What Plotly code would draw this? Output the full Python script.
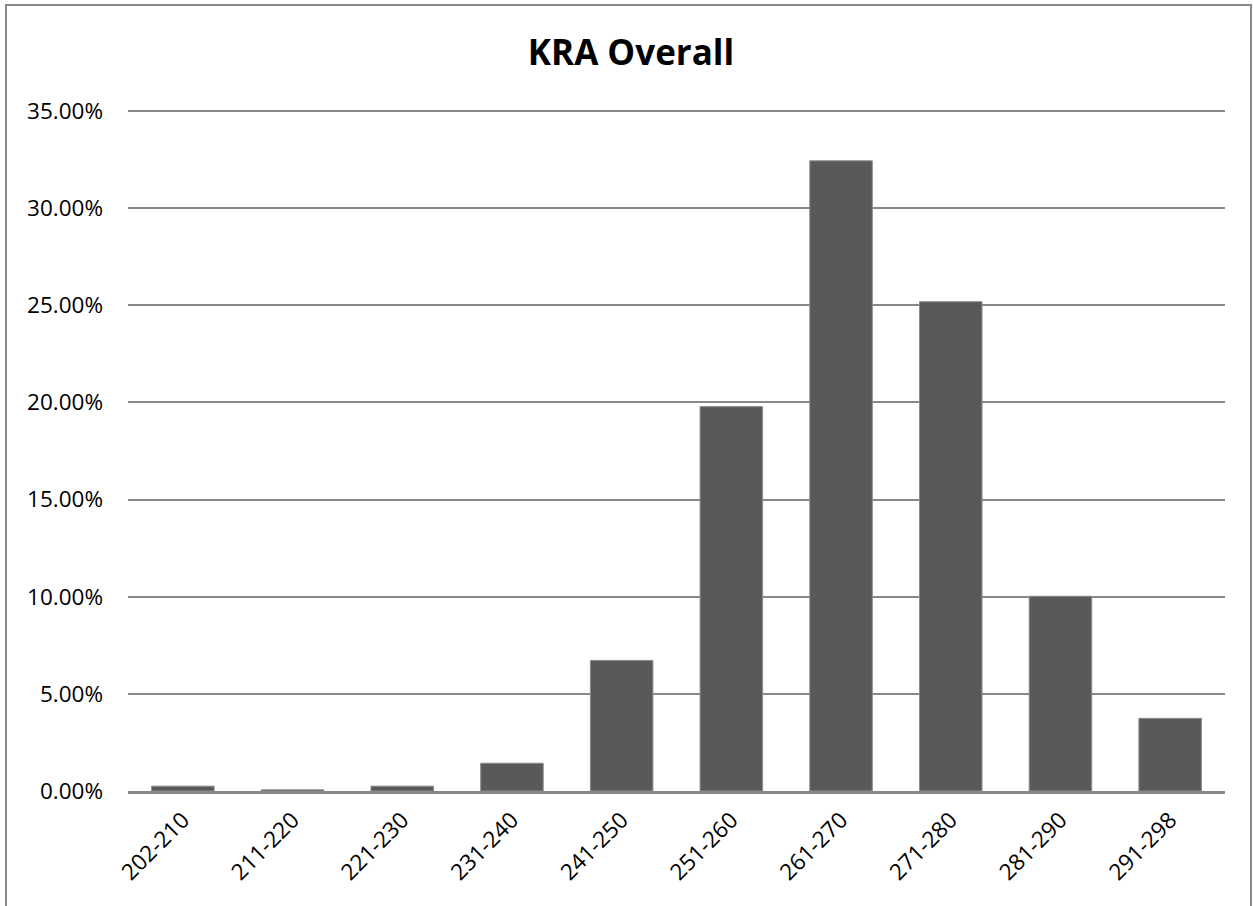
import plotly.graph_objects as go

# ── Data ──────────────────────────────────────────────────────────────────────
ranges = ["202-210", "211-220", "221-230", "231-240", "241-250",
          "251-260", "261-270", "271-280", "281-290", "291-298"]
share = [0.0025, 0.0006, 0.0025, 0.0143, 0.0672,
         0.1978, 0.3243, 0.2518, 0.1002, 0.0374]
y_ticks = [0, 0.05, 0.10, 0.15, 0.20, 0.25, 0.30, 0.35]

W, H = 1253, 906
ML, MR, MT, MB = 128, 28, 106, 115
pw, ph = W - ML - MR, H - MT - MB


def px_x(p):
    return (p - ML) / pw


def px_y(p):
    return 1 - (p - MT) / ph


fig = go.Figure(go.Bar(
    x=ranges, y=share,
    marker=dict(color="#595959", line=dict(color="#8c8c8c", width=1)),
))

fig.update_layout(
    width=W, height=H,
    margin=dict(l=ML, r=MR, t=MT, b=MB),
    paper_bgcolor="white", plot_bgcolor="white",
    font=dict(family="Open Sans, sans-serif", size=22.5, color="black"),
    title=dict(text="<b>KRA Overall</b>", x=631 / W, xref="container", xanchor="center",
               y=1 - 53 / H, yanchor="middle", font=dict(size=35)),
    bargap=0.43,
    showlegend=False,
    shapes=[dict(type="rect", xref="paper", yref="paper",
                 x0=px_x(6), x1=px_x(1251), y0=px_y(5), y1=px_y(920),
                 line=dict(color="#888888", width=2), fillcolor="rgba(0,0,0,0)")],
)

fig.update_yaxes(
    range=[0, 0.3525], tickvals=y_ticks, tickformat=".2%",
    showgrid=True, gridcolor="#888888", gridwidth=2,
    zeroline=False, showline=False, ticks="", ticklabelstandoff=24,
)
fig.update_xaxes(
    tickangle=-45, showline=True, linecolor="#888888", linewidth=3,
    showgrid=False, ticks="", ticklabelstandoff=4,
)

fig.write_html("out.html", config={"displayModeBar": False},
               post_script="document.body.style.margin='0';")
